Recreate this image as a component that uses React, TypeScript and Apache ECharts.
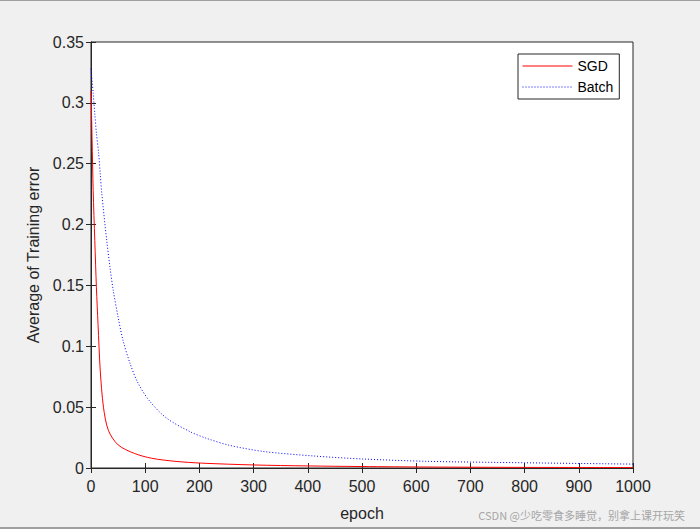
import React, { useEffect, useRef } from "react";
import * as echarts from "echarts";

const sgdEpochs = [0, 2, 4, 7, 10, 13, 17, 23, 32, 50, 80, 112, 155, 204, 300, 400, 500, 620, 800, 1000];
const sgdValues = [0.31, 0.27, 0.228, 0.187, 0.148, 0.118, 0.0805, 0.05, 0.031, 0.019, 0.012, 0.008, 0.0055, 0.004, 0.0025, 0.0017, 0.0012, 0.0008, 0.0005, 0.0004];

const batchEpochs = [0, 4, 7, 10, 14, 17, 20, 29, 35, 41, 50, 59, 72, 87, 109, 140, 183, 213, 256, 318, 410, 502, 619, 800, 1000];
const batchValues = [0.328, 0.308, 0.291, 0.275, 0.259, 0.242, 0.225, 0.187, 0.165, 0.146, 0.124, 0.105, 0.086, 0.0696, 0.0545, 0.0408, 0.0298, 0.0244, 0.0186, 0.0136, 0.0099, 0.0074, 0.0055, 0.0043, 0.0032];

const seriesNames = ["SGD", "Batch"];
const xName = "epoch";
const yName = "Average of Training error";
const watermark = "CSDN @少吃零食多睡觉，别拿上课开玩笑";

const FONT = "'Liberation Sans', Arial, sans-serif";

export default function App() {
  const ref = useRef<HTMLDivElement>(null);
  useEffect(() => {
    document.body.style.margin = "0";
    if (!ref.current) return;
    const chart = echarts.init(ref.current, null, { renderer: "svg" });
    const axisCommon = {
      type: "value" as const,
      axisLine: { show: true, lineStyle: { color: "#262626", width: 1 } },
      axisTick: { show: true, inside: true, length: 5, lineStyle: { color: "#262626" } },
      splitLine: { show: false },
    };
    chart.setOption({
      animation: false,
      backgroundColor: "#f0f0f0",
      grid: {
        left: 91,
        right: 67,
        top: 42,
        bottom: 61,
        show: true,
        backgroundColor: "#ffffff",
        borderColor: "#262626",
        borderWidth: 1,
      },
      legend: {
        left: 518,
        top: 54,
        orient: "vertical",
        data: seriesNames,
        backgroundColor: "#ffffff",
        borderColor: "#262626",
        borderWidth: 1,
        borderRadius: 0,
        padding: [5, 6, 5, 4],
        itemWidth: 50,
        itemHeight: 10,
        itemGap: 7,
        itemStyle: { opacity: 0 },
        lineStyle: { width: 1 },
        textStyle: { fontFamily: FONT, fontSize: 14, color: "#000" },
      },
      xAxis: [
        {
          ...axisCommon,
          min: 0,
          max: 1000,
          interval: 100,
          position: "bottom",
          name: xName,
          nameLocation: "middle",
          nameGap: 37,
          nameTextStyle: { fontFamily: FONT, fontSize: 16, color: "#262626" },
          axisLabel: {
            fontFamily: FONT,
            fontSize: 16,
            color: "#262626",
            margin: 10,
            formatter: (v: number) => String(v),
          },
        },
        {
          ...axisCommon,
          min: 0,
          max: 1000,
          interval: 100,
          position: "top",
          axisLabel: { show: false },
        },
      ],
      yAxis: [
        {
          ...axisCommon,
          min: 0,
          max: 0.35,
          interval: 0.05,
          position: "left",
          name: yName,
          nameLocation: "middle",
          nameGap: 47,
          nameTextStyle: { fontFamily: FONT, fontSize: 16, color: "#262626" },
          axisLabel: {
            fontFamily: FONT,
            fontSize: 16,
            color: "#262626",
            margin: 7,
            formatter: (v: number) => String(+v.toFixed(2)),
          },
        },
        {
          ...axisCommon,
          min: 0,
          max: 0.35,
          interval: 0.05,
          position: "right",
          axisLabel: { show: false },
        },
      ],
      series: [
        {
          name: seriesNames[0],
          type: "line",
          xAxisIndex: 0,
          yAxisIndex: 0,
          data: sgdEpochs.map((e, i) => [e, sgdValues[i]]),
          showSymbol: false,
          symbol: "none",
          smooth: 0.3,
          lineStyle: { color: "#ff0000", width: 1 },
          itemStyle: { color: "#ff0000" },
        },
        {
          name: seriesNames[1],
          type: "line",
          xAxisIndex: 0,
          yAxisIndex: 0,
          data: batchEpochs.map((e, i) => [e, batchValues[i]]),
          showSymbol: false,
          symbol: "none",
          smooth: 0.3,
          lineStyle: { color: "#0000ff", width: 1, type: [1, 2] },
          itemStyle: { color: "#0000ff" },
        },
      ],
      graphic: [
        { type: "rect", left: 0, top: 0, shape: { width: 700, height: 1 }, style: { fill: "#a0a0a0" } },
        { type: "rect", left: 0, top: 527, shape: { width: 700, height: 2 }, style: { fill: "#a0a0a0" } },
        {
          type: "text",
          right: 15,
          top: 509,
          style: {
            text: watermark,
            fill: "#a6a6a6",
            font: "11px 'Noto Sans CJK SC', sans-serif",
          },
        },
      ],
    });
    return () => chart.dispose();
  }, []);
  return <div ref={ref} style={{ width: 700, height: 529 }} />;
}
